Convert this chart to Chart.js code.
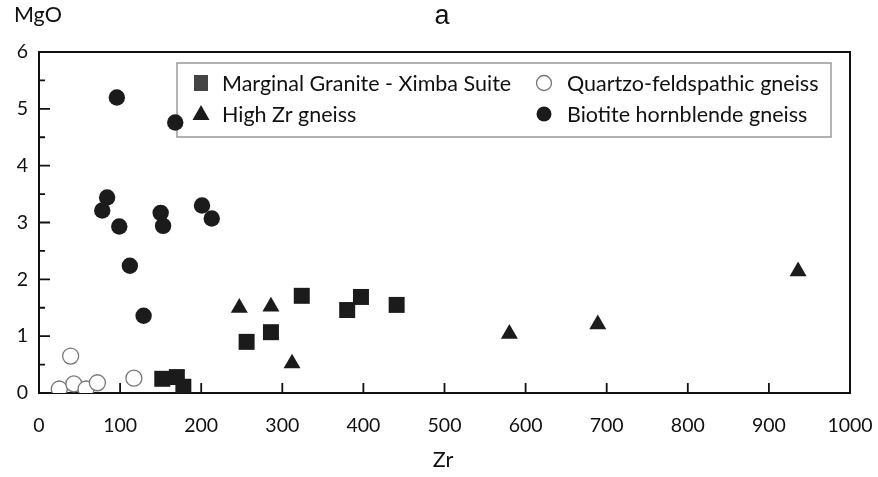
<!DOCTYPE html>
<html>
<head>
<meta charset="utf-8">
<script src="https://cdn.jsdelivr.net/npm/chart.js@4.4.0/dist/chart.umd.min.js"></script>
<style>
  html, body { margin: 0; padding: 0; background: #fff; }
  #wrap { width: 878px; height: 477px; position: relative; }
</style>
</head>
<body>
<div id="wrap"><canvas id="chart"></canvas></div>
<script>
// Zr (ppm) vs MgO (wt%)
const marginalZr = [152, 170, 178, 256, 286, 324, 380, 397, 441];
const marginalMgO = [0.25, 0.28, 0.11, 0.90, 1.07, 1.71, 1.46, 1.69, 1.55];

const quartzoZr = [39, 25, 43, 58, 72, 117];
const quartzoMgO = [0.65, 0.07, 0.16, 0.07, 0.18, 0.26];

const highZrZr = [247, 286, 312, 580, 689, 936];
const highZrMgO = [1.50, 1.52, 0.52, 1.04, 1.21, 2.14];

const biotiteZr = [96, 168, 84, 78, 99, 150, 153, 201, 213, 112, 129];
const biotiteMgO = [5.20, 4.76, 3.44, 3.21, 2.93, 3.17, 2.94, 3.30, 3.07, 2.24, 1.36];

const seriesNames = [
  "Marginal Granite - Ximba Suite",
  "Quartzo-feldspathic gneiss",
  "High Zr gneiss",
  "Biotite hornblende gneiss",
];

const FONT = "Lato, 'Open Sans', sans-serif";
const INK = "#1b1b1b";

function pts(xs, ys) {
  return xs.map((x, i) => ({ x: x, y: ys[i] }));
}

const datasets = [
  {
    label: seriesNames[0],
    data: pts(marginalZr, marginalMgO),
    pointStyle: "rect",
    pointRadius: 11.3,
    backgroundColor: INK,
    borderColor: INK,
    borderWidth: 0,
  },
  {
    label: seriesNames[1],
    data: pts(quartzoZr, quartzoMgO),
    pointStyle: "circle",
    pointRadius: 8,
    backgroundColor: "#fff",
    borderColor: "#777",
    borderWidth: 1.3,
  },
  {
    label: seriesNames[2],
    data: pts(highZrZr, highZrMgO),
    pointStyle: "triangle",
    pointRadius: 9.8,
    backgroundColor: INK,
    borderColor: INK,
    borderWidth: 0,
  },
  {
    label: seriesNames[3],
    data: pts(biotiteZr, biotiteMgO),
    pointStyle: "circle",
    pointRadius: 8.2,
    backgroundColor: INK,
    borderColor: INK,
    borderWidth: 0,
  },
];

// legend marker, drawn by hand
function marker(ctx, ds, x, y) {
  ctx.save();
  ctx.fillStyle = ds.backgroundColor;
  ctx.strokeStyle = ds.borderColor;
  ctx.lineWidth = ds.borderWidth || 1;
  ctx.beginPath();
  if (ds.pointStyle === "rect") {
    ctx.fillStyle = "#444";
    ctx.rect(x - 7, y - 8, 14, 16);
    ctx.fill();
  } else if (ds.pointStyle === "triangle") {
    ctx.moveTo(x, y - 9);
    ctx.lineTo(x + 8.5, y + 6);
    ctx.lineTo(x - 8.5, y + 6);
    ctx.closePath();
    ctx.fill();
  } else {
    ctx.arc(x, y, 7.5, 0, Math.PI * 2);
    ctx.fill();
    if (ds.borderWidth) ctx.stroke();
  }
  ctx.restore();
}

const framePlugin = {
  id: "frame",
  beforeDatasetsDraw(chart) {
    const ctx = chart.ctx;
    const a = chart.chartArea;
    const xs = chart.scales.x;
    const ys = chart.scales.y;

    // box
    ctx.save();
    ctx.strokeStyle = "#111";
    ctx.lineWidth = 2;
    ctx.strokeRect(a.left, a.top, a.right - a.left, a.bottom - a.top);

    // inward ticks
    ctx.lineWidth = 1.8;
    ctx.beginPath();
    xs.ticks.forEach((t) => {
      const px = xs.getPixelForValue(t.value);
      ctx.moveTo(px, a.bottom);
      ctx.lineTo(px, a.bottom - 10);
    });
    ys.ticks.forEach((t) => {
      const py = ys.getPixelForValue(t.value);
      const len = Number.isInteger(t.value) ? 11 : 6;
      ctx.moveTo(a.left, py);
      ctx.lineTo(a.left + len, py);
    });
    ctx.stroke();

    // legend box
    const bx = 177, by = 63, bw = 654, bh = 74;
    ctx.fillStyle = "#fff";
    ctx.fillRect(bx, by, bw, bh);
    ctx.strokeStyle = "#999";
    ctx.lineWidth = 1.5;
    ctx.strokeRect(bx, by, bw, bh);

    const rows = [83, 114];
    const cols = [{ m: 201, t: 222 }, { m: 544, t: 567 }];
    ctx.font = "21.5px " + FONT;
    ctx.textBaseline = "middle";
    ctx.textAlign = "left";
    datasets.forEach((ds, i) => {
      const c = cols[i % 2];
      const r = rows[Math.floor(i / 2)];
      marker(ctx, ds, c.m, r);
      ctx.fillStyle = "#111";
      ctx.fillText(ds.label, c.t, r + 1);
    });

    // titles
    ctx.fillStyle = "#111";
    ctx.font = "21.5px " + FONT;
    ctx.fillText("MgO", 14, 15);
    ctx.textAlign = "center";
    ctx.fillText("Zr", 443, 460);
    ctx.font = "27px 'Liberation Sans', Arial, sans-serif";
    ctx.fillText("a", 442, 17);
    ctx.restore();
  },
};

new Chart(document.getElementById("chart"), {
  type: "scatter",
  data: { datasets: datasets },
  options: {
    responsive: true,
    maintainAspectRatio: false,
    animation: false,
    layout: { padding: { left: 0, top: 52, right: 28, bottom: 0 } },
    plugins: {
      legend: { display: false },
      tooltip: { enabled: false },
    },
    scales: {
      x: {
        type: "linear",
        min: 0,
        max: 1000,
        grid: { display: false },
        border: { display: false },
        ticks: {
          stepSize: 100,
          autoSkip: false,
          maxRotation: 0,
          padding: 13,
          color: "#111",
          font: { family: FONT, size: 19.5 },
          callback: (v) => String(v),
        },
        afterFit: (s) => {
          s.height = 84;
          s.paddingLeft = 0;
          s.paddingRight = 0;
        },
      },
      y: {
        type: "linear",
        min: 0,
        max: 6,
        grid: { display: false },
        border: { display: false },
        ticks: {
          stepSize: 0.5,
          autoSkip: false,
          padding: 3,
          color: "#111",
          font: { family: FONT, size: 19.5 },
          callback: (v) => (Number.isInteger(v) ? v : ""),
        },
        afterFit: (s) => {
          s.width = 39;
          s.paddingTop = 0;
          s.paddingBottom = 0;
        },
      },
    },
  },
  plugins: [framePlugin],
});
</script>
</body>
</html>
